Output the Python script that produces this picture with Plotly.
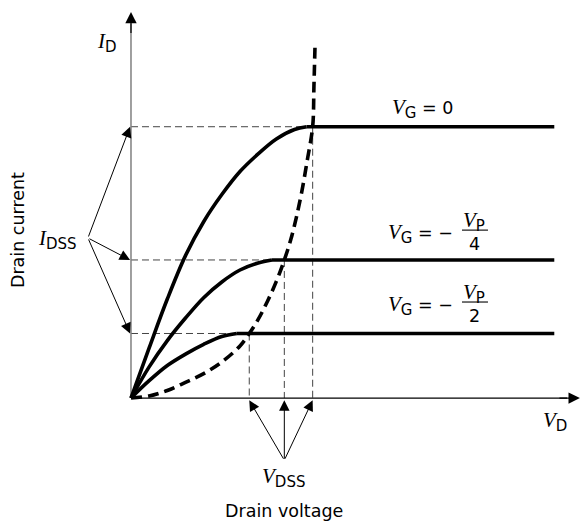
import plotly.graph_objects as go

# Output characteristics of an n-channel JFET (drain voltage in V, drain current in mA)
vd_g0 = [0, 1, 2, 3, 4, 5, 6, 7, 8, 9, 9.67]
id_g0 = [0, 1.85, 3.65, 5.25, 6.5, 7.5, 8.35, 9.0, 9.55, 9.9, 10.0]

vd_gp4 = [0, 1, 2, 3, 4, 5, 6, 7, 7.76]
id_gp4 = [0, 1.15, 2.12, 2.95, 3.70, 4.28, 4.72, 4.98, 5.09]

vd_gp2 = [0, 1, 2, 3, 4, 5, 5.82]
id_gp2 = [0, 0.64, 1.20, 1.62, 1.98, 2.27, 2.38]

# Saturation currents and pinch-off drain voltages of the three curves
i_dss = [10.0, 5.09, 2.38]
v_dss = [10.0, 8.44, 6.51]
vd_end = 23.3

# Locus of the pinch-off points
vd_locus = [0, 1, 2, 3, 4, 5, 6, 6.51, 7, 7.5, 8, 8.44, 8.8, 9.1, 9.4, 9.7, 10.0, 10.07, 10.13]
id_locus = [0, 0.08, 0.28, 0.58, 0.90, 1.33, 1.92, 2.38, 2.90, 3.55, 4.30, 5.09, 5.85,
            6.65, 7.6, 8.75, 10.0, 11.5, 13.0]

SERIF = "Liberation Serif"
SANS = "DejaVu Sans"
INK = "black"


def sym(letter, sub, size=21, subsize=15):
    return (f'<span style="font-family:{SERIF};font-size:{size}px"><i>{letter}</i></span>'
            f'<sub><span style="font-size:{subsize}px">{sub}</span></sub>')


fig = go.Figure()

# thin dashed guides from the axes to each pinch-off point
for v, i in zip(v_dss, i_dss):
    fig.add_trace(go.Scatter(x=[0, v], y=[i, i], mode="lines",
                             line=dict(color="#444", width=1, dash="7px,4px")))
    fig.add_trace(go.Scatter(x=[v, v], y=[i, 0], mode="lines",
                             line=dict(color="#444", width=1, dash="7px,4px")))

# axes
fig.add_trace(go.Scatter(x=[0, 24.0], y=[0, 0], mode="lines",
                         line=dict(color=INK, width=1.2)))
fig.add_trace(go.Scatter(x=[0, 0], y=[0, 13.8], mode="lines",
                         line=dict(color="#808080", width=1.5)))

# characteristic curves: ohmic region then flat saturation region
for xs, ys in [(vd_g0, id_g0), (vd_gp4, id_gp4), (vd_gp2, id_gp2)]:
    fig.add_trace(go.Scatter(x=xs, y=ys, mode="lines",
                             line=dict(color=INK, width=3.6, shape="spline", smoothing=1.0)))
    fig.add_trace(go.Scatter(x=[xs[-1], vd_end], y=[ys[-1], ys[-1]], mode="lines",
                             line=dict(color=INK, width=3.6)))

# pinch-off locus
fig.add_trace(go.Scatter(x=vd_locus, y=id_locus, mode="lines",
                         line=dict(color=INK, width=3.6, dash="11px,6px",
                                   shape="spline", smoothing=1.0)))


def arrow(x, y, ax, ay, width=1.0, size=2.1, color=INK):
    return dict(x=x, y=y, ax=ax, ay=ay, xref="x", yref="y", axref="x", ayref="y",
                text="", showarrow=True, arrowhead=2, arrowsize=size,
                arrowwidth=width, arrowcolor=color, standoff=0, startstandoff=0)


annotations = [
    arrow(24.71, 0, 23.5, 0, width=1.2, size=1.9),
    arrow(0, 14.23, 0, 13.4, width=1.2, size=1.9),
]
# I_DSS pointers
for i in i_dss:
    annotations.append(arrow(-0.05, i, -2.37, 5.90))
# V_DSS pointers
for v in v_dss:
    annotations.append(arrow(v, -0.08, 8.44, -2.29))


def label(x, y, text, size=17.5, angle=0):
    return dict(x=x, y=y, xref="x", yref="y", text=text, showarrow=False,
                xanchor="center", yanchor="middle", textangle=angle,
                font=dict(family=SANS, size=size, color=INK))


annotations += [
    label(-1.32, 13.12, sym("I", "D")),
    label(23.34, -0.85, sym("V", "D")),
    label(16.02, 10.69, sym("V", "G") + " = 0"),
    label(15.93, 6.08, sym("V", "G") + " = \u2212"),
    label(18.88, 6.52, sym("V", "P")),
    label(18.93, 5.68, "4"),
    label(15.93, 3.43, sym("V", "G") + " = \u2212"),
    label(18.88, 3.87, sym("V", "P")),
    label(18.93, 3.02, "2"),
    label(-4.02, 5.86, sym("I", "DSS")),
    label(8.42, -2.91, sym("V", "DSS")),
    label(8.42, -4.17, "Drain voltage"),
    label(-6.22, 6.19, "Drain current", angle=-90),
]

# fraction bars
shapes = [
    dict(type="line", xref="x", yref="y", x0=18.22, x1=19.65, y0=6.19, y1=6.19,
         line=dict(color=INK, width=1.1)),
    dict(type="line", xref="x", yref="y", x0=18.22, x1=19.65, y0=3.54, y1=3.54,
         line=dict(color=INK, width=1.1)),
]

fig.update_layout(
    width=581, height=521,
    margin=dict(l=0, r=0, t=0, b=0),
    paper_bgcolor="white", plot_bgcolor="white",
    showlegend=False,
    xaxis=dict(range=[-7.21, 24.77], visible=False, fixedrange=True),
    yaxis=dict(range=[-4.53, 14.67], visible=False, fixedrange=True),
    annotations=annotations,
    shapes=shapes,
)

fig.write_html("out.html")
